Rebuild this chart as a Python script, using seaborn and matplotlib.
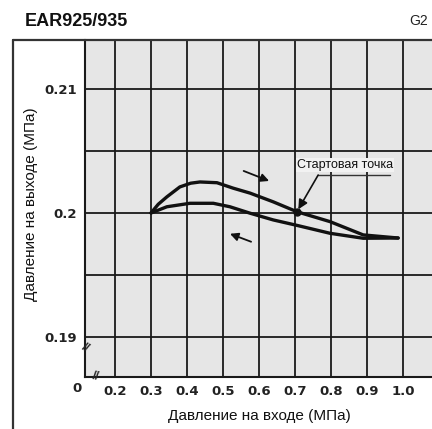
import matplotlib
matplotlib.use("Agg")
import matplotlib.pyplot as plt
import seaborn as sns
import pandas as pd

# upper branch (pressure rising) and lower branch (pressure falling)
upper_x = [0.300, 0.320, 0.344, 0.380, 0.410, 0.436, 0.483, 0.528, 0.575, 0.639, 0.705, 0.797, 0.889, 0.986]
upper_y = [0.2000, 0.2007, 0.2013, 0.2021, 0.20240, 0.2025, 0.20244, 0.2020, 0.2016, 0.2009, 0.2001, 0.1993, 0.19823, 0.19798]
lower_x = [0.300, 0.344, 0.408, 0.473, 0.519, 0.575, 0.639, 0.705, 0.797, 0.889, 0.986]
lower_y = [0.2000, 0.2005, 0.20078, 0.20078, 0.2005, 0.19998, 0.19944, 0.1990, 0.19836, 0.19796, 0.19798]

x_ticks = [0.2, 0.3, 0.4, 0.5, 0.6, 0.7, 0.8, 0.9, 1.0]
x_labels = ["0.2", "0.3", "0.4", "0.5", "0.6", "0.7", "0.8", "0.9", "1.0"]
y_ticks = [0.19, 0.2, 0.21]
y_labels = ["0.19", "0.2", "0.21"]
y_grid = [0.19, 0.195, 0.2, 0.205, 0.21]

start_point = (0.705, 0.2001)
label_anchor = (0.764, 0.20306)
label_end_x = 0.964
up_arrow = [(0.55, 0.20347), (0.635, 0.2025)]
down_arrow = [(0.585, 0.1976), (0.512, 0.1984)]

sns.set_theme(style="white")
plt.rcParams["font.family"] = ["Liberation Sans", "DejaVu Sans"]

fig = plt.figure(figsize=(4.32, 4.29), dpi=100)
ax = fig.add_axes([85 / 432, 1 - 377 / 429, 1 - 85 / 432, 337 / 429])
ax.set_facecolor("#e6e6e6")

df = pd.concat([
    pd.DataFrame({"x": upper_x, "y": upper_y, "branch": "up"}),
    pd.DataFrame({"x": lower_x, "y": lower_y, "branch": "down"}),
])
sns.lineplot(data=df, x="x", y="y", units="branch", estimator=None, sort=False,
             color="#111111", linewidth=2.4, ax=ax, legend=False)
for line in ax.get_lines():
    line.set_solid_joinstyle("round")
    line.set_solid_capstyle("round")

ax.set_xlim(0.1167, 1.08)
ax.set_ylim(0.18677, 0.21395)

for xv in x_ticks:
    ax.axvline(xv, color="#1a1a1a", lw=1.3, zorder=1)
for yv in y_grid:
    ax.axhline(yv, color="#1a1a1a", lw=1.3, zorder=1)

ax.set_xticks(x_ticks)
ax.set_xticklabels(x_labels)
ax.set_yticks(y_ticks)
ax.set_yticklabels(y_labels)
ax.tick_params(length=0, labelsize=9.5, colors="#222222", pad=6)
for lab in ax.get_xticklabels() + ax.get_yticklabels():
    lab.set_fontweight("bold")
    lab.set_family("DejaVu Sans")

for side in ["top", "right"]:
    ax.spines[side].set_visible(False)
for side in ["left", "bottom"]:
    ax.spines[side].set_color("#1a1a1a")
    ax.spines[side].set_linewidth(1.5)

ax.set_xlabel("Давление на входе (МПа)", fontsize=11, color="#111111")
ax.xaxis.set_label_coords((259 - 85) / 347, -(409 - 377) / 337)
ax.set_ylabel("Давление на выходе (МПа)", fontsize=11, color="#111111")
ax.yaxis.set_label_coords(-(85 - 38) / 347, (377 - 204) / 337)

# start point and annotation with underline leader
ax.plot(*start_point, "o", color="#111111", ms=5, zorder=4)
ax.plot([label_anchor[0], label_end_x], [label_anchor[1], label_anchor[1]],
        color="#333333", lw=1.0, zorder=3)
ax.annotate("", xy=start_point, xytext=label_anchor,
            arrowprops=dict(arrowstyle="-|>", color="#111111", lw=1.2,
                            mutation_scale=14, shrinkA=0, shrinkB=2))
ax.text((label_anchor[0] + label_end_x) / 2 - 0.025, label_anchor[1] + 0.0008, "Стартовая точка",
        fontsize=9, color="#111111", ha="center", va="center",
        bbox=dict(boxstyle="square,pad=0.1", fc="#f2f2f2", ec="none"))

ax.annotate("", xy=up_arrow[1], xytext=up_arrow[0],
            arrowprops=dict(arrowstyle="-|>", color="#111111", lw=1.3, mutation_scale=12))
ax.annotate("", xy=down_arrow[1], xytext=down_arrow[0],
            arrowprops=dict(arrowstyle="-|>", color="#111111", lw=1.3, mutation_scale=12))

# axis break marks and origin label
ax.text(0.0, 0.085, "//", transform=ax.transAxes, fontsize=9, rotation=-30,
        ha="center", va="center", fontweight="bold", clip_on=False)
ax.text(0.03, 0.0, "//", transform=ax.transAxes, fontsize=9, rotation=-10,
        ha="center", va="center", fontweight="bold", clip_on=False)
ax.text(-0.022, -0.033, "0", transform=ax.transAxes, fontsize=9.5, fontweight="bold",
        family="DejaVu Sans", ha="center", va="center", color="#222222")

# outer frame, title, page code
fig.add_artist(plt.Line2D([13 / 432, 13 / 432], [0, 1 - 40 / 429], color="#333333", lw=1.6))
fig.add_artist(plt.Line2D([13 / 432, 1], [1 - 40 / 429, 1 - 40 / 429], color="#333333", lw=1.6))
fig.text(25 / 432, 1 - 21 / 429, "EAR925/935", fontsize=13, fontweight="bold",
         family=["Liberation Sans Narrow", "Liberation Sans", "DejaVu Sans"],
         va="center", ha="left", color="#111111")
fig.text(428 / 432, 1 - 21 / 429, "G2", fontsize=10, va="center", ha="right", color="#222222")

fig.savefig("out.png", dpi=100)
